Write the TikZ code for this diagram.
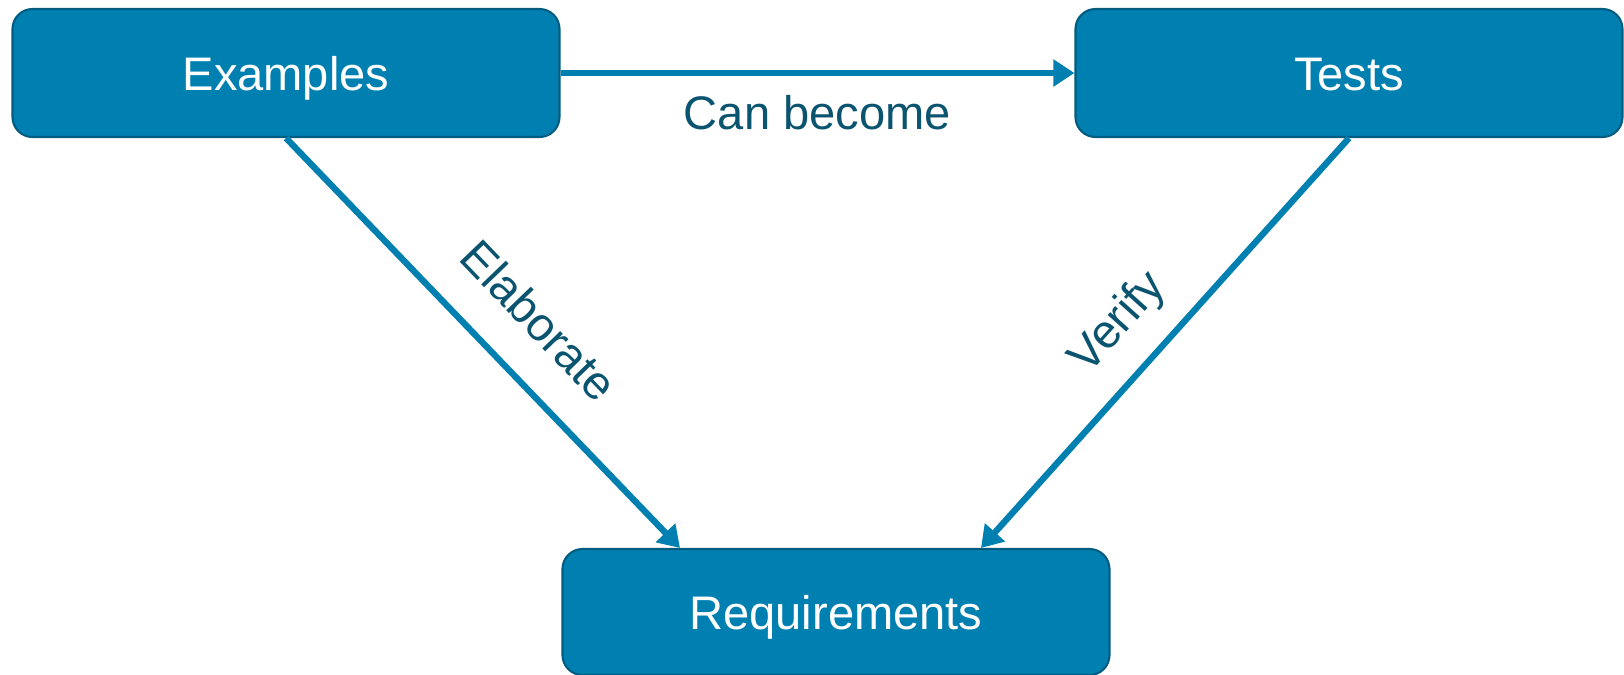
\documentclass[tikz,border=0pt]{standalone}
\usepackage{fontspec}
\setmainfont{Liberation Sans}
\usetikzlibrary{arrows.meta}
\definecolor{boxblue}{RGB}{0,128,177}
\definecolor{boxedge}{RGB}{0,92,128}
\definecolor{labelteal}{RGB}{11,84,112}
\begin{document}
\begin{tikzpicture}[font=\fontsize{13.4}{16}\selectfont]
\useasboundingbox (0,0) rectangle (16.24,6.74);
\tikzset{box/.style={draw=boxedge,line width=0.6pt,fill=boxblue,rounded corners=0.2cm,
  text=white,minimum width=5.47cm,minimum height=1.28cm,inner sep=0pt,
  text height=1.2em,text depth=0.212em}};
\node[box] (E) at (2.86, 6.01) {Examples};
\node[box] (T) at (13.49, 6.01) {Tests};
\node[box,minimum height=1.26cm] (R) at (8.36, 0.62) {Requirements};

\tikzset{conn/.style={-{Triangle[length=0.21cm,width=0.26cm]},draw=boxblue,line width=1.8pt}};
\tikzset{lbl/.style={text=labelteal}};
\path (E) edge [conn] node[lbl,below=0.07cm] {Can become} (T);
\path (E.south) edge [conn] node[lbl,sloped,pos=0.54,above=0.24cm] {Elaborate} ([xshift=-1.56cm]R.north);
\path (T.south) edge [conn] node[lbl,sloped,pos=0.53,above=0.11cm] {Verify} ([xshift=1.45cm]R.north);
\end{tikzpicture}
\end{document}
